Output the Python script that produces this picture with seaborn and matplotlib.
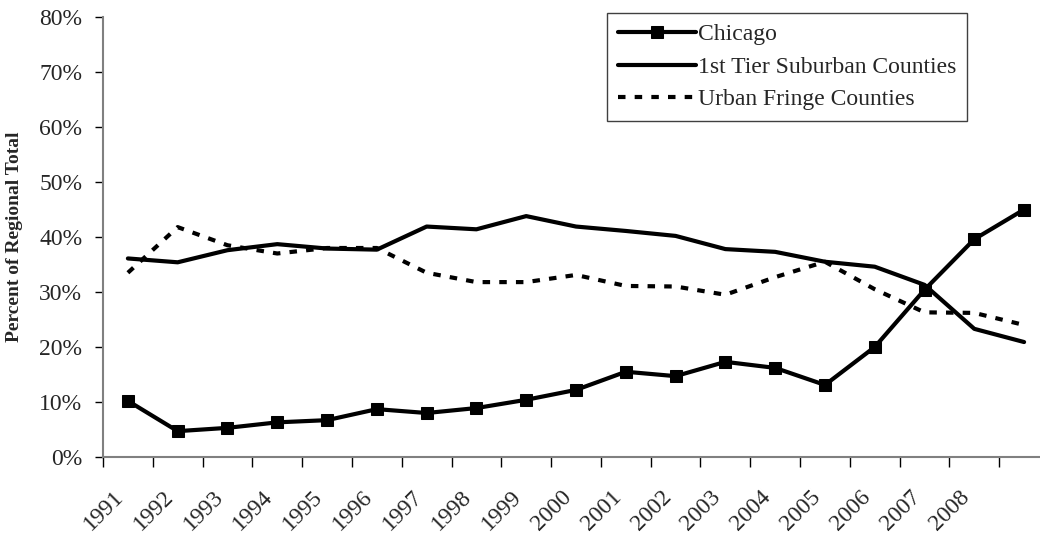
import pandas as pd
import matplotlib
matplotlib.use("Agg")
import matplotlib.pyplot as plt
import matplotlib.transforms as mtransforms
import seaborn as sns
from matplotlib.ticker import PercentFormatter

# Dados (percentagem do total regional)
ANOS = list(range(1991, 2010))
ROTULOS_X = [str(a) for a in range(1991, 2009)] + [""]
CHICAGO = [10.2, 4.7, 5.3, 6.3, 6.7, 8.7, 8.0, 8.9, 10.4, 12.2,
           15.5, 14.7, 17.3, 16.2, 13.1, 20.0, 30.4, 39.6, 45.0]
PRIMEIRO_ANEL = [36.1, 35.4, 37.6, 38.7, 37.9, 37.7, 41.9, 41.4, 43.8, 41.9,
                 41.1, 40.2, 37.8, 37.3, 35.5, 34.6, 31.3, 23.3, 20.9]
FRANJA_URBANA = [33.5, 41.8, 38.5, 37.0, 38.0, 38.0, 33.5, 31.8, 31.8, 33.1,
                 31.1, 31.0, 29.5, 32.7, 35.5, 30.5, 26.3, 26.2, 24.0]

sns.set_theme(style="white")
plt.rcParams['font.family'] = ['Liberation Serif', 'DejaVu Serif']

df = pd.DataFrame({
    'pos': range(len(ANOS)),
    'Chicago': [v / 100 for v in CHICAGO],
    '1st Tier Suburban Counties': [v / 100 for v in PRIMEIRO_ANEL],
    'Urban Fringe Counties': [v / 100 for v in FRANJA_URBANA],
})

fig = plt.figure(figsize=(10.4, 5.37), dpi=100)
ax = fig.add_axes([103 / 1040, 80 / 537, 946 / 1040, 440 / 537])

sns.lineplot(data=df, x='pos', y='Chicago', ax=ax, color='black', linewidth=3,
             marker='s', markersize=9, markeredgecolor='black', label='Chicago')
sns.lineplot(data=df, x='pos', y='1st Tier Suburban Counties', ax=ax, color='black',
             linewidth=3, label='1st Tier Suburban Counties')
sns.lineplot(data=df, x='pos', y='Urban Fringe Counties', ax=ax, color='black',
             linewidth=3, linestyle=(0, (1.8, 2.2)), label='Urban Fringe Counties')

ax.set_xlim(-0.5, len(ANOS) - 0.5)
ax.set_ylim(0, 0.8)
ax.set_yticks([i / 10 for i in range(9)])
ax.yaxis.set_major_formatter(PercentFormatter(1.0, decimals=0))

# ticks nas fronteiras das categorias, rótulos no centro
ax.set_xticks([i - 0.5 for i in range(len(ANOS) + 1)])
ax.set_xticklabels([])
ax.set_xticks(range(len(ANOS)), minor=True)
ax.set_xticklabels(ROTULOS_X, minor=True, rotation=45, ha='right', va='top',
                   rotation_mode='anchor', fontsize=17)
ax.tick_params(axis='x', which='minor', length=0, pad=21)
ax.tick_params(axis='x', which='major', direction='out', length=7, width=1,
               color='black', bottom=True)
ax.tick_params(axis='y', direction='out', length=6, width=1, color='black',
               left=True, labelsize=17, pad=9)

desloc = mtransforms.ScaledTranslation(-15 / 100, 0, fig.dpi_scale_trans)
for rot in ax.get_xticklabels(minor=True):
    rot.set_transform(rot.get_transform() + desloc)

for lado in ['top', 'right']:
    ax.spines[lado].set_visible(False)
ax.spines['left'].set_color('#808080')
ax.spines['left'].set_linewidth(1.5)
ax.spines['bottom'].set_color('#808080')
ax.spines['bottom'].set_linewidth(1.5)

ax.set_xlabel('')
ax.set_ylabel('Percent of Regional Total', fontsize=14, fontweight='bold')
ax.yaxis.set_label_coords(-0.0845, 0.5)

leg = ax.legend(loc='upper right', bbox_to_anchor=(967 / 1040, 1 - 13 / 537),
                bbox_transform=fig.transFigure, fontsize=17,
                frameon=True, fancybox=False, edgecolor='#404040', framealpha=1,
                handlelength=3.3, handletextpad=0.1, borderpad=0.45,
                labelspacing=0.47, borderaxespad=0)
leg.get_frame().set_linewidth(1)

plt.savefig('out.png', dpi=100)
